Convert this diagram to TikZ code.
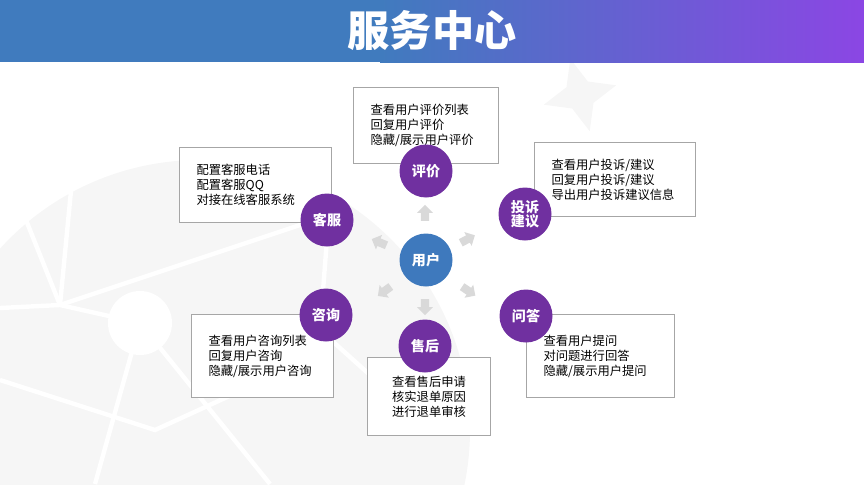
\documentclass[tikz,border=0pt]{standalone}
\usepackage{fontspec}
\newfontfamily\cjk{Noto Sans CJK SC}
\usepackage{tikz}
\usetikzlibrary{shapes, shapes.arrows, shapes.geometric, positioning, calc}
\definecolor{barblue}{RGB}{64, 123, 190}
\definecolor{barpurple}{RGB}{139, 70, 228}
\definecolor{userblue}{RGB}{62, 121, 189}
\definecolor{rolepurple}{RGB}{112, 48, 160}
\definecolor{boxgray}{RGB}{166, 166, 166}
\definecolor{arrowgray}{RGB}{217, 217, 217}
\definecolor{decogray}{RGB}{246, 246, 246}

\begin{document}
\begin{tikzpicture}[
    x=0.02cm, y=-0.02cm,
    every node/.style={align=center},
    infobox/.style={draw=boxgray, line width=0.6pt, fill=white, anchor=north west,
        inner xsep=0.34cm, inner ysep=0pt, align=left,
        font=\cjk\fontsize{7}{8.6}\selectfont},
    role/.style={circle, fill=rolepurple, text=white, minimum size=1.06cm, inner sep=0pt,
        font=\cjk\bfseries\fontsize{8}{10}\selectfont},
    outarrow/.style={single arrow, fill=arrowgray, inner xsep=0pt, inner ysep=0.075cm,
        single arrow head extend=0.075cm, single arrow tip angle=90,
        minimum height=0.32cm}
]
    \useasboundingbox (0,0) rectangle (864,484);

    % Faint background decoration
    \begin{scope}
        \clip (0,62) rectangle (864,484);
        \fill[decogray] (200,430) circle (270);
        \draw[white, line width=2.5pt] (60,305) -- (22,210);
        \draw[white, line width=2.5pt] (60,305) -- (73,170);
        \draw[white, line width=2.5pt] (0,308) -- (60,305) -- (330,215);
        \draw[white, line width=2.5pt] (60,305) -- (140,323) -- (95,484);
        \draw[white, line width=2.5pt] (140,323) -- (270,484);
        \draw[white, line width=2.5pt] (0,380) -- (155,430) -- (330,350);
        \draw[white, line width=2.5pt] (330,200) -- (320,330) -- (420,420);
        \fill[white] (140,323) circle (32);
        \node[star, star points=4, star point ratio=2.4, fill=decogray, minimum size=1.5cm,
              rotate=15] (deco) at (580,95) {};
    \end{scope}

    % Title bar
    \fill[barblue] (0,0) rectangle (381,62);
    \shade[left color=barblue, right color=barpurple] (380,0) rectangle (864,62);
    \node[text=white, font=\cjk\bfseries\fontsize{24}{28}\selectfont] (title) at (432,30) {服务中心};

    % Info boxes
    \node[infobox, text width=2.22cm, minimum height=1.52cm] (pjBox) at (353,87) {
        查看用户评价列表\\
        回复用户评价\\
        隐藏/展示用户评价
    };
    \node[infobox, text width=2.36cm, minimum height=1.5cm] (kfBox) at (179,147) {
        配置客服电话\\
        配置客服QQ\\
        对接在线客服系统
    };
    \node[infobox, text width=2.54cm, minimum height=1.48cm] (tsBox) at (534,142) {
        查看用户投诉/建议\\
        回复用户投诉/建议\\
        导出用户投诉建议信息
    };
    \node[infobox, text width=2.16cm, minimum height=1.66cm] (zxBox) at (191,314) {
        查看用户咨询列表\\
        回复用户咨询\\
        隐藏/展示用户咨询
    };
    \node[infobox, text width=1.78cm, minimum height=1.56cm, align=center] (shBox) at (367,357) {
        查看售后申请\\
        核实退单原因\\
        进行退单审核
    };
    \node[infobox, text width=2.28cm, minimum height=1.66cm] (wdBox) at (526,314) {
        查看用户提问\\
        对问题进行回答\\
        隐藏/展示用户提问
    };

    % Role circles
    \node[role] (pj) at (426,171) {评价};
    \node[role] (kf) at (327,220) {客服};
    \node[role] (ts) at (525,214) {投诉\\[-2pt]建议};
    \node[role] (zx) at (326,315) {咨询};
    \node[role] (sh) at (425,346) {售后};
    \node[role] (wd) at (526,316) {问答};

    % User in the middle
    \node[role, fill=userblue] (user) at (426,260) {用户};

    % Arrows going out from the user
    \node[outarrow, rotate=90] (arPj) at (425,215) {};
    \node[outarrow, rotate=28] (arTs) at (466,240) {};
    \node[outarrow, rotate=-34] (arWd) at (467,290) {};
    \node[outarrow, rotate=-90] (arSh) at (425,305) {};
    \node[outarrow, rotate=216] (arZx) at (386,290) {};
    \node[outarrow, rotate=157] (arKf) at (381,243) {};
\end{tikzpicture}
\end{document}
